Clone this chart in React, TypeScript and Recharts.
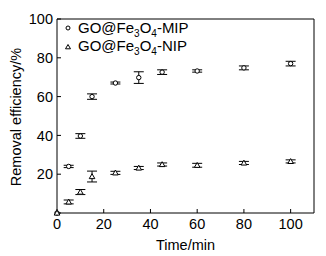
import {
  ScatterChart,
  Scatter,
  XAxis,
  YAxis,
  ErrorBar,
  ReferenceLine,
} from "recharts";

const times = [0, 5, 10, 15, 25, 35, 45, 60, 80, 100];
const mipValues = [0, 24, 39.7, 60, 67, 69.8, 72.6, 73.2, 74.8, 77];
const mipErrors = [0, 0.6, 1.2, 1.4, 0.5, 3, 1.2, 0.6, 1, 1.2];
const nipValues = [0, 5.7, 10.8, 18.8, 20.7, 23.2, 25, 24.6, 25.8, 26.6];
const nipErrors = [0, 1, 1.3, 2.8, 0.8, 0.8, 0.8, 1, 0.8, 0.8];
const xTicks = [0, 20, 40, 60, 80, 100];
const yTicks = [0, 20, 40, 60, 80, 100];

const FONT = '"Liberation Sans", Arial, sans-serif';

const mipData = times.map((t, i) => ({ t, v: mipValues[i], err: mipErrors[i] }));
const nipData = times.map((t, i) => ({ t, v: nipValues[i], err: nipErrors[i] }));

const CircleShape = (props: any) => (
  <circle cx={props.cx} cy={props.cy} r={2.2} fill="#fff" stroke="#000" strokeWidth={1} />
);

const TriangleShape = (props: any) => {
  const { cx, cy } = props;
  const s = 2.8;
  return (
    <path
      d={`M${cx},${cy - s} L${cx + s},${cy + s * 0.75} L${cx - s},${cy + s * 0.75} Z`}
      fill="#fff"
      stroke="#000"
      strokeWidth={1}
    />
  );
};

const subStyle = { fontSize: 10, lineHeight: 0, verticalAlign: "-4px" };

const Formula = ({ tail }: { tail: string }) => (
  <span>
    GO@Fe<span style={subStyle}>3</span>O<span style={subStyle}>4</span>-{tail}
  </span>
);

// legend drawn as an overlay so it does not take room from the plot
const LegendBox = () => (
  <div
    style={{
      position: "absolute",
      top: 19,
      left: 63,
      fontFamily: FONT,
      fontSize: 15,
      lineHeight: "18.4px",
      color: "#000",
      pointerEvents: "none",
    }}
  >
    <div style={{ display: "flex", alignItems: "center", height: 18.4 }}>
      <svg width={10} height={10} style={{ marginRight: 5 }}>
        <circle cx={5} cy={5} r={2} fill="#fff" stroke="#000" />
      </svg>
      <Formula tail="MIP" />
    </div>
    <div style={{ display: "flex", alignItems: "center", height: 18.4 }}>
      <svg width={10} height={10} style={{ marginRight: 5 }}>
        <path d="M5,2.5 L7.5,6.8 L2.5,6.8 Z" fill="#fff" stroke="#000" />
      </svg>
      <Formula tail="NIP" />
    </div>
  </div>
);

export default function App() {
  return (
    <div style={{ position: "relative", width: 326, height: 256, fontFamily: FONT }}>
      <style>{`body{margin:0}`}</style>
      <ScatterChart width={326} height={256} margin={{ top: 19, right: 12, bottom: 0, left: 0 }}>
        <XAxis
          type="number"
          dataKey="t"
          domain={[0, 110]}
          ticks={xTicks}
          height={43}
          tickSize={-4}
          tickMargin={10}
          stroke="#000"
          tick={{ fill: "#000", fontSize: 14.5, fontFamily: FONT }}
          label={{ value: "Time/min", position: "insideBottom", offset: 6, fill: "#000", fontSize: 14.5, fontFamily: FONT }}
        />
        <YAxis
          type="number"
          dataKey="v"
          domain={[0, 100]}
          ticks={yTicks}
          width={57}
          tickSize={-4}
          tickMargin={8}
          stroke="#000"
          tickFormatter={(v: number) => (v === 0 ? "" : String(v))}
          tick={{ fill: "#000", fontSize: 14.5, fontFamily: FONT }}
          label={{
            content: () => (
              <text
                transform="translate(16,117) rotate(-90)"
                textAnchor="middle"
                dominantBaseline="central"
                fill="#000"
                fontSize={14.5}
                fontFamily={FONT}
              >
                Removal efficiency/%
              </text>
            ),
          }}
        />
        <ReferenceLine y={100} stroke="#000" />
        <ReferenceLine x={110} stroke="#000" />
        <Scatter data={mipData} shape={CircleShape} isAnimationActive={false}>
          <ErrorBar dataKey="err" direction="y" width={5} stroke="#000" strokeWidth={1} isAnimationActive={false} />
        </Scatter>
        <Scatter data={nipData} shape={TriangleShape} isAnimationActive={false}>
          <ErrorBar dataKey="err" direction="y" width={5} stroke="#000" strokeWidth={1} isAnimationActive={false} />
        </Scatter>
      </ScatterChart>
      <LegendBox />
    </div>
  );
}
